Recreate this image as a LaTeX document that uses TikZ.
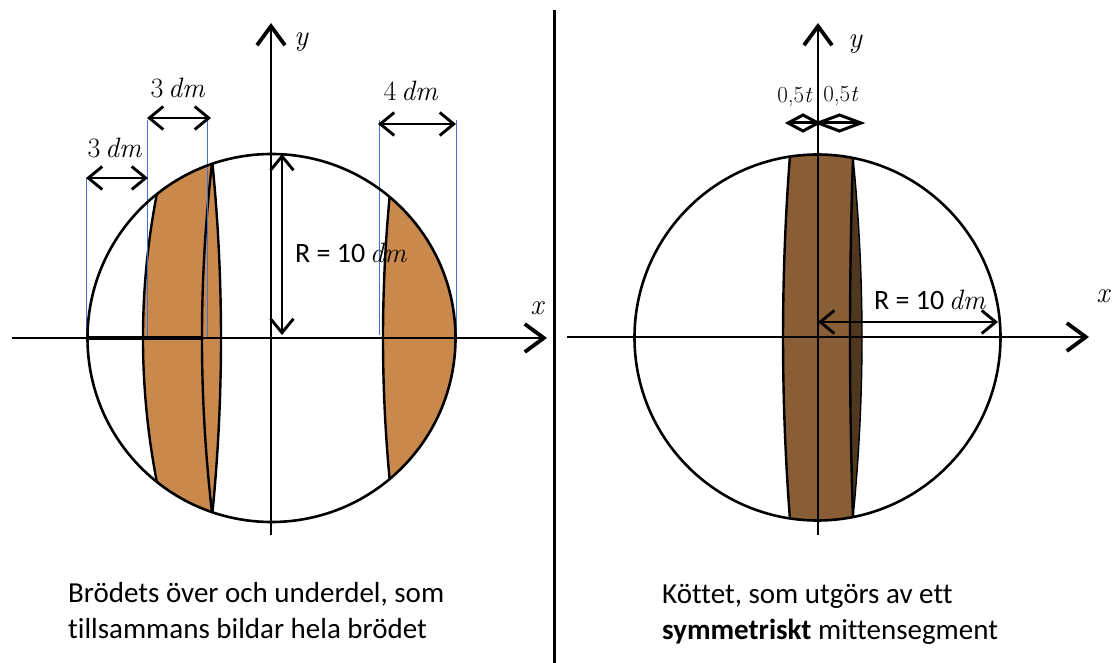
\documentclass[tikz,border=0pt]{standalone}
\usepackage{fontspec}
\newfontfamily\calibri[Ligatures=NoCommon]{Carlito}
\usetikzlibrary{arrows.meta}
\definecolor{bread}{RGB}{201,137,76}
\definecolor{meat}{RGB}{137,94,54}
\definecolor{meatdark}{RGB}{80,56,32}
\definecolor{guide}{RGB}{68,114,196}
\tikzset{
  axisline/.style={line width=2pt,-{Straight Barb[length=19pt,width=28pt,line width=3.8pt]}},
  rim/.style={line width=2.6pt},
  cutedge/.style={line width=2.4pt},
  guideline/.style={guide,line width=0.9pt},
  dimline/.style={line width=2.9pt,{Straight Barb[length=14pt,width=23pt]}-{Straight Barb[length=14pt,width=23pt]}},
  diamondarrow/.style={line width=3pt,line join=miter},
  lbl/.style={inner sep=0pt,font=\fontsize{28}{32}\selectfont},
  rlbl/.style={inner sep=0pt,font=\fontsize{28}{32}\selectfont},
  axlbl/.style={inner sep=0pt,font=\fontsize{29}{33}\selectfont\itshape},
  smalllbl/.style={inner sep=0pt,font=\fontsize{23}{26}\selectfont},
  caption/.style={inner sep=0pt,anchor=base west,font=\calibri\fontsize{29}{37}\selectfont},
}
\begin{document}
\begin{tikzpicture}[x=1pt,y=-1pt]
\useasboundingbox (0,0) rectangle (1112,663);

% ---------------- left panel ----------------
\coordinate (O1) at (271.5,338);
\begin{scope}
  \clip (O1) circle (184pt);
  \fill[bread] (166.6,150) .. controls (135.1,275.3) and (135.1,400.7) .. (166.6,526)
     -- (211.1,526) .. controls (224.3,400.7) and (224.3,275.3) .. (211.1,150) -- cycle;
  \fill[bread] (394.7,150) .. controls (379.1,275.3) and (379.1,400.7) .. (394.7,526)
     -- (470,526) -- (470,150) -- cycle;
  \draw[cutedge] (166.6,150) .. controls (135.1,275.3) and (135.1,400.7) .. (166.6,526);
  \draw[cutedge] (211.1,150) .. controls (224.3,275.3) and (224.3,400.7) .. (211.1,526);
  \draw[cutedge] (213.6,150) .. controls (198.1,275.3) and (198.1,400.7) .. (213.6,526);
  \draw[cutedge] (394.7,150) .. controls (379.1,275.3) and (379.1,400.7) .. (394.7,526);
\end{scope}

% guide lines
\coordinate (g1t) at (86,178);  \coordinate (g1b) at (86,338);
\coordinate (g2t) at (147,120); \coordinate (g2b) at (147,338);
\coordinate (g3t) at (207,120); \coordinate (g3b) at (207,338);
\coordinate (g4t) at (379,120); \coordinate (g4b) at (379,335);
\coordinate (g5t) at (456,120); \coordinate (g5b) at (456,338);
\foreach \g in {1,...,5} {\draw[guideline] (g\g t) -- (g\g b);}

% axes
\coordinate (xL1) at (12,338);  \coordinate (xR1) at (547,338);
\coordinate (yB1) at (271,535); \coordinate (yT1) at (271,23);
\draw[line width=3.6pt] (87,338) -- (203,338);
\draw[axisline] (xL1) -- (xR1);
\draw[axisline] (yB1) -- (yT1);
\node[axlbl] (xlab1) at (537,308) {x};
\node[axlbl] (ylab1) at (301,42) {y};

\draw[rim] (O1) circle (184pt);

% dimensions
\coordinate (d1a) at (86,178);  \coordinate (d1b) at (148,178);
\coordinate (d2a) at (147,118); \coordinate (d2b) at (211,118);
\coordinate (d3a) at (378,124); \coordinate (d3b) at (456,124);
\coordinate (d4a) at (282,154); \coordinate (d4b) at (282,335);
\draw[dimline] (d1a) -- (d1b);
\draw[dimline] (d2a) -- (d2b);
\draw[dimline] (d3a) -- (d3b);
\draw[dimline] (d4a) -- (d4b);
\node[lbl] (l1) at (115,148) {3\,\textit{dm}};
\node[lbl] (l2) at (178,88) {3\,\textit{dm}};
\node[lbl] (l3) at (411,91) {4\,\textit{dm}};
\node[rlbl] (l4) at (351,253) {{\calibri R = 10}\,\textit{dm}};

% separator
\coordinate (sepT) at (554,10); \coordinate (sepB) at (554,663);
\draw[line width=3pt] (sepT) -- (sepB);

% ---------------- right panel ----------------
\coordinate (O2) at (817.5,337.5);
\begin{scope}
  \clip (O2) circle (183pt);
  \fill[meat] (791.2,140) .. controls (780.3,271.7) and (780.3,403.3) .. (791.2,535)
     -- (851.2,535) .. controls (865.6,403.3) and (865.6,271.7) .. (851.2,140) -- cycle;
  \fill[meatdark] (853.6,140) .. controls (848.8,271.7) and (848.8,403.3) .. (853.6,535)
     -- (851.2,535) .. controls (865.6,403.3) and (865.6,271.7) .. (851.2,140) -- cycle;
  \draw[cutedge] (791.2,140) .. controls (780.3,271.7) and (780.3,403.3) .. (791.2,535);
  \draw[cutedge] (853.6,140) .. controls (848.8,271.7) and (848.8,403.3) .. (853.6,535);
  \draw[line width=1.4pt] (851.2,140) .. controls (865.6,271.7) and (865.6,403.3) .. (851.2,535);
\end{scope}

\coordinate (xL2) at (567,337);  \coordinate (xR2) at (1089,337);
\coordinate (yB2) at (818,535);  \coordinate (yT2) at (818,23);
\draw[axisline] (xL2) -- (xR2);
\draw[axisline] (yB2) -- (yT2);
\node[axlbl] (xlab2) at (1103,296) {x};
\node[axlbl] (ylab2) at (855,44) {y};

\draw[rim] (O2) circle (183pt);

\coordinate (r2a) at (818,322); \coordinate (r2b) at (998,322);
\draw[dimline] (r2a) -- (r2b);
\node[rlbl] (l5) at (930,300) {{\calibri R = 10}\,\textit{dm}};

% half-thickness markers (diamond-shaped double arrows)
\coordinate (h1a) at (788,123); \coordinate (h1b) at (818,123);
\coordinate (h2a) at (818,123); \coordinate (h2b) at (861,123);
\draw[diamondarrow] (h1a) -- ++(15,-8) -- (h1b) -- ++(-15,8) -- cycle;
\draw[diamondarrow] (h1a) -- (h1b);
\draw[diamondarrow] (h2a) -- ++(21.5,-8) -- (h2b) -- ++(-21.5,8) -- cycle;
\draw[diamondarrow] (h2a) -- (h2b);
\node[smalllbl] (t1) at (795,97) {0,5\textit{t}};
\node[smalllbl] (t2) at (841,96) {0,5\textit{t}};

% captions
\node[caption] (c1) at (68,602) {Brödets över och underdel, som};
\node[caption] (c2) at (68,638) {tillsammans bildar hela brödet};
\node[caption] (c3) at (662,603) {Köttet, som utgörs av ett};
\node[caption] (c4) at (662,639) {\textbf{symmetriskt} mittensegment};
\end{tikzpicture}
\end{document}
